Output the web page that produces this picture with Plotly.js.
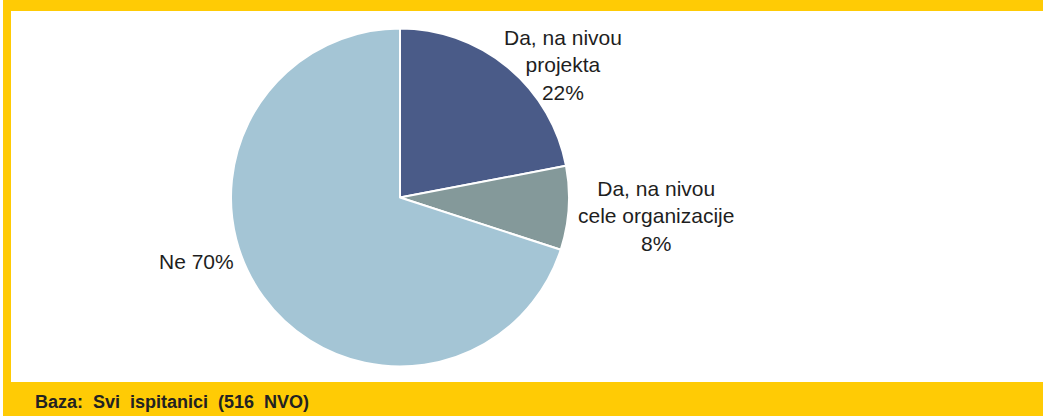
<!DOCTYPE html>
<html>
<head>
<meta charset="utf-8">
<script src="https://cdn.plot.ly/plotly-3.0.1.min.js"></script>
<style>
html,body{margin:0;padding:0;background:#fff;}
#chart{width:1043px;height:416px;}
</style>
</head>
<body>
<div id="chart"></div>
<script>
// Data
const categories = ["Da, na nivou projekta", "Da, na nivou cele organizacije", "Ne"];
const values = [22, 8, 70];
const sliceColors = ["#4a5b88", "#84999a", "#a4c5d5"];
const labelTexts = ["Da, na nivou<br>projekta<br>22%", "Da, na nivou<br>cele organizacije<br>8%", "Ne 70%"];
const footnote = "Baza:\u00A0 Svi\u00A0 ispitanici\u00A0 (516\u00A0 NVO)";

const W = 1043, H = 416;
const px = x => x / W;
const py = y => 1 - y / H;

const cx = 400, cy = 197.5, r = 169;

const trace = {
  type: "pie",
  labels: categories,
  values: values,
  sort: false,
  direction: "clockwise",
  rotation: 0,
  textinfo: "none",
  hoverinfo: "label+percent",
  marker: {colors: sliceColors, line: {color: "#ffffff", width: 2}},
  domain: {x: [px(cx - r), px(cx + r)], y: [py(cy + r), py(cy - r)]},
  showlegend: false
};

const yellow = "#ffcb05";
const labelFont = {family: "Liberation Sans, Arial, sans-serif", size: 21, color: "#1e1e1e"};

const layout = {
  width: W, height: H,
  margin: {l: 0, r: 0, t: 0, b: 0},
  paper_bgcolor: "#ffffff",
  showlegend: false,
  shapes: [
    {type: "rect", xref: "paper", yref: "paper", x0: px(3), x1: 1, y0: py(11), y1: 1, fillcolor: yellow, line: {width: 0}},
    {type: "rect", xref: "paper", yref: "paper", x0: px(3), x1: px(11), y0: 0, y1: 1, fillcolor: yellow, line: {width: 0}},
    {type: "rect", xref: "paper", yref: "paper", x0: px(3), x1: 1, y0: 0, y1: py(382), fillcolor: yellow, line: {width: 0}}
  ],
  annotations: [
    {xref: "paper", yref: "paper", x: px(563), y: py(65), text: labelTexts[0], showarrow: false, xanchor: "center", yanchor: "middle", align: "center", font: labelFont},
    {xref: "paper", yref: "paper", x: px(656), y: py(216), text: labelTexts[1], showarrow: false, xanchor: "center", yanchor: "middle", align: "center", font: labelFont},
    {xref: "paper", yref: "paper", x: px(196), y: py(261), text: labelTexts[2], showarrow: false, xanchor: "center", yanchor: "middle", align: "center", font: labelFont},
    {xref: "paper", yref: "paper", x: px(33), y: py(402), text: "<b>" + footnote + "</b>", showarrow: false, xanchor: "left", yanchor: "middle", align: "left", font: {family: "Liberation Sans, Arial, sans-serif", size: 18, color: "#222222"}}
  ]
};

Plotly.newPlot("chart", [trace], layout, {displayModeBar: false, staticPlot: true});
</script>
</body>
</html>
